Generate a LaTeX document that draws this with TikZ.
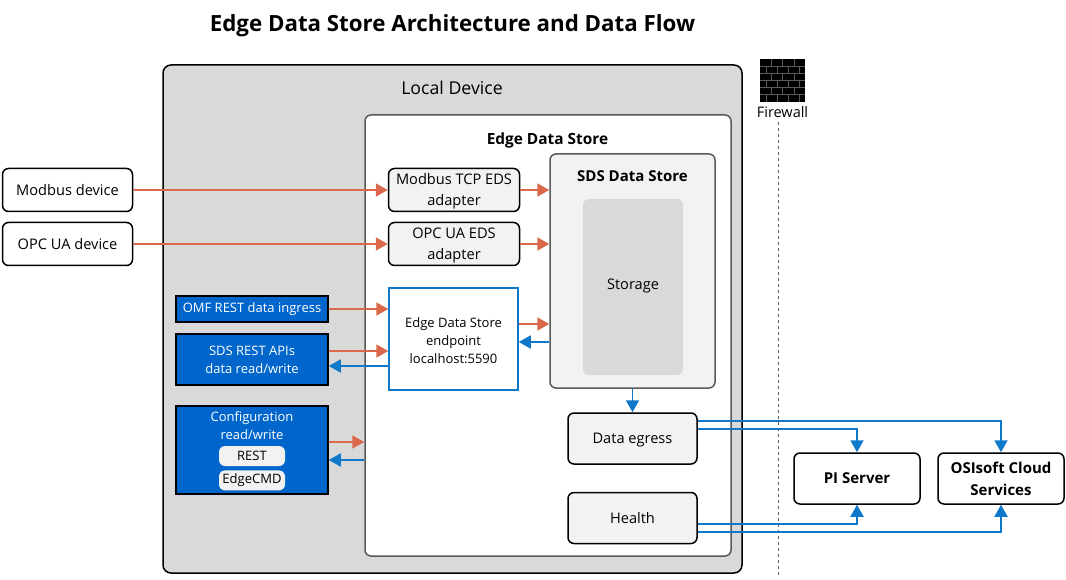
\documentclass[tikz,border=0pt]{standalone}
\usepackage{fontspec}
\setmainfont{Open Sans}
\usetikzlibrary{arrows.meta,positioning}
\definecolor{panelgray}{HTML}{D9D9D9}
\definecolor{boxgray}{HTML}{F2F2F2}
\definecolor{edgegray}{HTML}{595959}
\definecolor{apiblue}{HTML}{0066CC}
\definecolor{flowblue}{HTML}{0F78C8}
\definecolor{floworange}{HTML}{D9694A}
\newcommand{\topgap}{\rule{0pt}{14pt}}

\begin{document}
\begin{tikzpicture}[
x=1pt, y=-1pt,
font=\fontsize{14.6}{21}\selectfont,
node distance=9.5pt,
base/.style={draw, rounded corners=6pt, align=center, line width=1.5pt, inner sep=0pt},
device/.style={base, fill=white, minimum width=130pt, minimum height=43pt},
adapter/.style={base, fill=boxgray, minimum width=131pt, minimum height=43pt},
output/.style={base, fill=boxgray, minimum width=129pt, minimum height=51pt, text height=12pt, text depth=2pt},
target/.style={base, fill=white, minimum width=126pt, minimum height=51pt, font=\fontsize{15}{22}\selectfont\bfseries},
api/.style={draw, fill=apiblue, text=white, align=center, line width=1.5pt, minimum width=152pt, inner sep=0pt, font=\fontsize{13}{18}\selectfont},
pill/.style={fill=boxgray, rounded corners=6pt, minimum width=66pt, minimum height=20pt, inner sep=0pt, font=\fontsize{13}{18}\selectfont},
inflow/.style={-{Triangle[length=12pt,width=13pt]}, line width=1.8pt, floworange},
outflow/.style={-{Triangle[length=12pt,width=13pt]}, line width=1.8pt, flowblue}
]
\useasboundingbox (0,0) rectangle (1066,580);

\node[font=\fontsize{22.3}{26}\selectfont\bfseries] (title) at (452.5,26) {Edge Data Store Architecture and Data Flow};

% containers
\node[base, fill=panelgray, rounded corners=8pt, minimum width=579pt, minimum height=508pt] (local) at (452.5,319) {};
\node[font=\fontsize{17.7}{20}\selectfont] (locallabel) at (452,88) {Local Device};
\node[base, draw=edgegray, fill=white, minimum width=366pt, minimum height=441pt] (eds) at (548,335.5) {};
\node[font=\fontsize{15.4}{18}\selectfont\bfseries] (edslabel) at (547.5,141) {Edge Data Store};
\node[base, draw=edgegray, fill=boxgray, minimum width=165pt, minimum height=234pt] (sds) at (632.5,271) {};
\node[font=\fontsize{15}{18}\selectfont\bfseries] (sdslabel) at (632.5,176) {SDS Data Store};
\node[fill=panelgray, rounded corners=6pt, minimum width=100pt, minimum height=176pt, inner sep=0pt, text depth=5pt] (storage) at (633,287) {Storage};

% devices and adapters
\node[device] (modbus) at (67.5,190) {Modbus device};
\node[device, below=of modbus] (opcua) {OPC UA device};
\node[adapter] (tcpadapter) at (454,190) {\topgap Modbus TCP EDS\\adapter};
\node[adapter, below=of tcpadapter] (opcadapter) {\topgap OPC UA EDS\\adapter};
\node[draw=flowblue, fill=white, line width=1.5pt, align=center, minimum width=129pt, minimum height=102pt, inner sep=0pt, font=\fontsize{13}{18}\selectfont] (endpoint) at (453.5,339) {\topgap Edge Data Store\\endpoint\\localhost:5590};

% ingress side
\node[api, minimum height=26pt] (omf) at (252,309) {OMF REST data ingress};
\node[api, minimum height=51pt] (sdsrest) at (252,359.5) {SDS REST APIs\\data read/write};
\node[api, minimum height=88pt] (config) at (252,450) {};
\node[align=center, text=white, font=\fontsize{13}{18}\selectfont] (configlabel) at (252,426) {Configuration\\read/write};
\node[pill] (rest) at (252,456) {REST};
\node[pill, below=4pt of rest] (edgecmd) {EdgeCMD};

% egress side
\node[output] (egress) at (632.5,438.5) {Data egress};
\node[output] (health) at (632.5,518) {Health};
\node[target] (piserver) at (857,478.5) {PI Server};
\node[target, right=16.5pt of piserver] (ocs) {OSIsoft Cloud\\Services};

% firewall
\node[fill=black, minimum width=45pt, minimum height=43pt, inner sep=0pt] (firewall) at (782.5,80.5) {};
\foreach \row in {1,...,5}
  \draw[edgegray, line width=1pt] (760,{59+\row*7.2}) -- (805,{59+\row*7.2});
\foreach \row in {0,2,4}
  \foreach \col in {771,782,794}
    \draw[edgegray, line width=1pt] (\col,{59+\row*7.2}) -- (\col,{59+(\row+1)*7.2});
\foreach \row in {1,3,5}
  \foreach \col in {766,777,788,799}
    \draw[edgegray, line width=1pt] (\col,{59+\row*7.2}) -- (\col,{59+(\row+1)*7.2});
\node[font=\fontsize{14.5}{16}\selectfont, below=1pt of firewall] (firewalllabel) {Firewall};
\coordinate (walltop) at (778,122);
\coordinate (wallend) at (778,578);
\draw[dashed, edgegray, line width=0.8pt] (walltop) -- (wallend);

% connectors
\draw[inflow] (modbus) -- (tcpadapter);
\draw[inflow] (opcua) -- (opcadapter);
\draw[inflow] (tcpadapter.east) -- (tcpadapter.east -| sds.west);
\draw[inflow] (opcadapter.east) -- (opcadapter.east -| sds.west);
\draw[inflow] (omf.east) -- (omf.east -| endpoint.west);

\coordinate (restin) at ([yshift=8.5pt]sdsrest.east);
\coordinate (restout) at ([yshift=-6.5pt]sdsrest.east);
\draw[inflow] (restin) -- (restin -| endpoint.west);
\draw[outflow] (restout -| endpoint.west) -- (restout);

\coordinate (cfgin) at ([yshift=8pt]config.east);
\coordinate (cfgout) at ([yshift=-10pt]config.east);
\draw[inflow] (cfgin) -- (cfgin -| eds.west);
\draw[outflow] (cfgout -| eds.west) -- (cfgout);

\coordinate (storein) at ([yshift=15pt]endpoint.east);
\coordinate (storeout) at ([yshift=-3pt]endpoint.east);
\draw[inflow] (storein) -- (storein -| sds.west);
\draw[outflow] (storeout -| sds.west) -- (storeout);

\draw[outflow] (sds.south -| egress.north) -- (egress.north);
\draw[outflow] ([yshift=17.5pt]egress.east) -| (ocs.north);
\draw[outflow] ([yshift=9.5pt]egress.east) -| (piserver.north);
\draw[outflow] ([yshift=-6pt]health.east) -| (piserver.south);
\draw[outflow] ([yshift=-14pt]health.east) -| (ocs.south);
\end{tikzpicture}
\end{document}
